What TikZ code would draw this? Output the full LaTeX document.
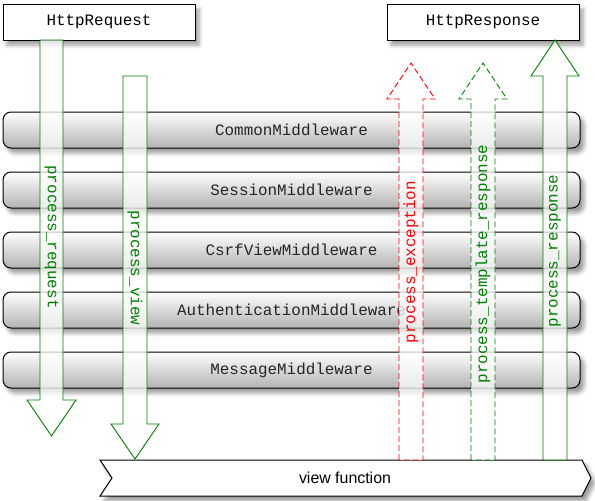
\documentclass[tikz,border=0pt]{standalone}
\usepackage{fontspec}
\setmonofont{Liberation Mono}
\setsansfont{Liberation Sans}
\usetikzlibrary{shadows.blur}
\definecolor{flowgreen}{RGB}{0,128,0}
\definecolor{flowred}{RGB}{255,0,0}

\begin{document}
\begin{tikzpicture}
        [
            x = 1pt, y = -1pt,
            every node/.style = {font=\fontsize{15.9}{18}\selectfont\ttfamily},
            soft/.style = {blur shadow={shadow xshift=4pt, shadow yshift=-5pt, shadow blur radius=4pt, shadow opacity=40}},
            iobox/.style = {draw, line width=1pt, fill=white, minimum width=192pt, minimum height=36pt, inner sep=0pt, soft},
            layer/.style = {draw, line width=1pt, rounded corners=8pt, top color=white, bottom color=black!30, minimum width=577pt, minimum height=36pt, inner sep=0pt, text=black!85, soft},
            flow/.style = {line width=0.9pt, fill=white, fill opacity=0.75},
            broken/.style = {dash pattern=on 6pt off 3pt},
        ]
        \useasboundingbox (0,0) rectangle (595,501);

        \node[iobox] (request) at (99,22) {HttpRequest};
        \node[iobox] (response) at (483,22) {HttpResponse};

        \foreach \name [count=\i] in {Common,Session,CsrfView,Authentication,Message}
            \node[layer] (\name) at (291.5,70+60*\i) {\name Middleware};

        % view function
        \draw[line width=1pt, fill=white, soft] (100,460) -- (582,460) -- (591,478) -- (582,496) -- (100,496) -- (112,478) -- cycle;
        \node[font=\fontsize{15.9}{18}\selectfont\sffamily] (view) at (345,478) {view function};

        % going down
        \draw[flow, draw=flowgreen] (40,40) -- (40,400) -- (27,400) -- (51.5,436) -- (76,400) -- (63,400) -- (63,40) -- cycle;
        \draw[flow, draw=flowgreen] (123,76) -- (123,424) -- (111,424) -- (135,459) -- (159,424) -- (147,424) -- (147,76) -- cycle;
        % going up
        \draw[flow, draw=flowred, broken] (399,460) -- (399,99) -- (387,99) -- (411,63) -- (435,99) -- (423,99) -- (423,460) -- cycle;
        \draw[flow, draw=flowgreen, broken] (471,460) -- (471,99) -- (459,99) -- (483,63) -- (507,99) -- (495,99) -- (495,460) -- cycle;
        \draw[flow, draw=flowgreen] (543,460) -- (543,76) -- (531,76) -- (555,40) -- (579,76) -- (567,76) -- (567,460) -- cycle;

        \node[text=flowgreen, rotate=-90] (reqlabel) at (51.5,237) {process\_request};
        \node[text=flowgreen, rotate=-90] (viewlabel) at (135,268) {process\_view};
        \node[text=flowred, rotate=90] (exclabel) at (411,262) {process\_exception};
        \node[text=flowgreen, rotate=90] (tpllabel) at (483,264) {process\_template\_response};
        \node[text=flowgreen, rotate=90] (resplabel) at (555,251) {process\_response};
    \end{tikzpicture}
\end{document}
